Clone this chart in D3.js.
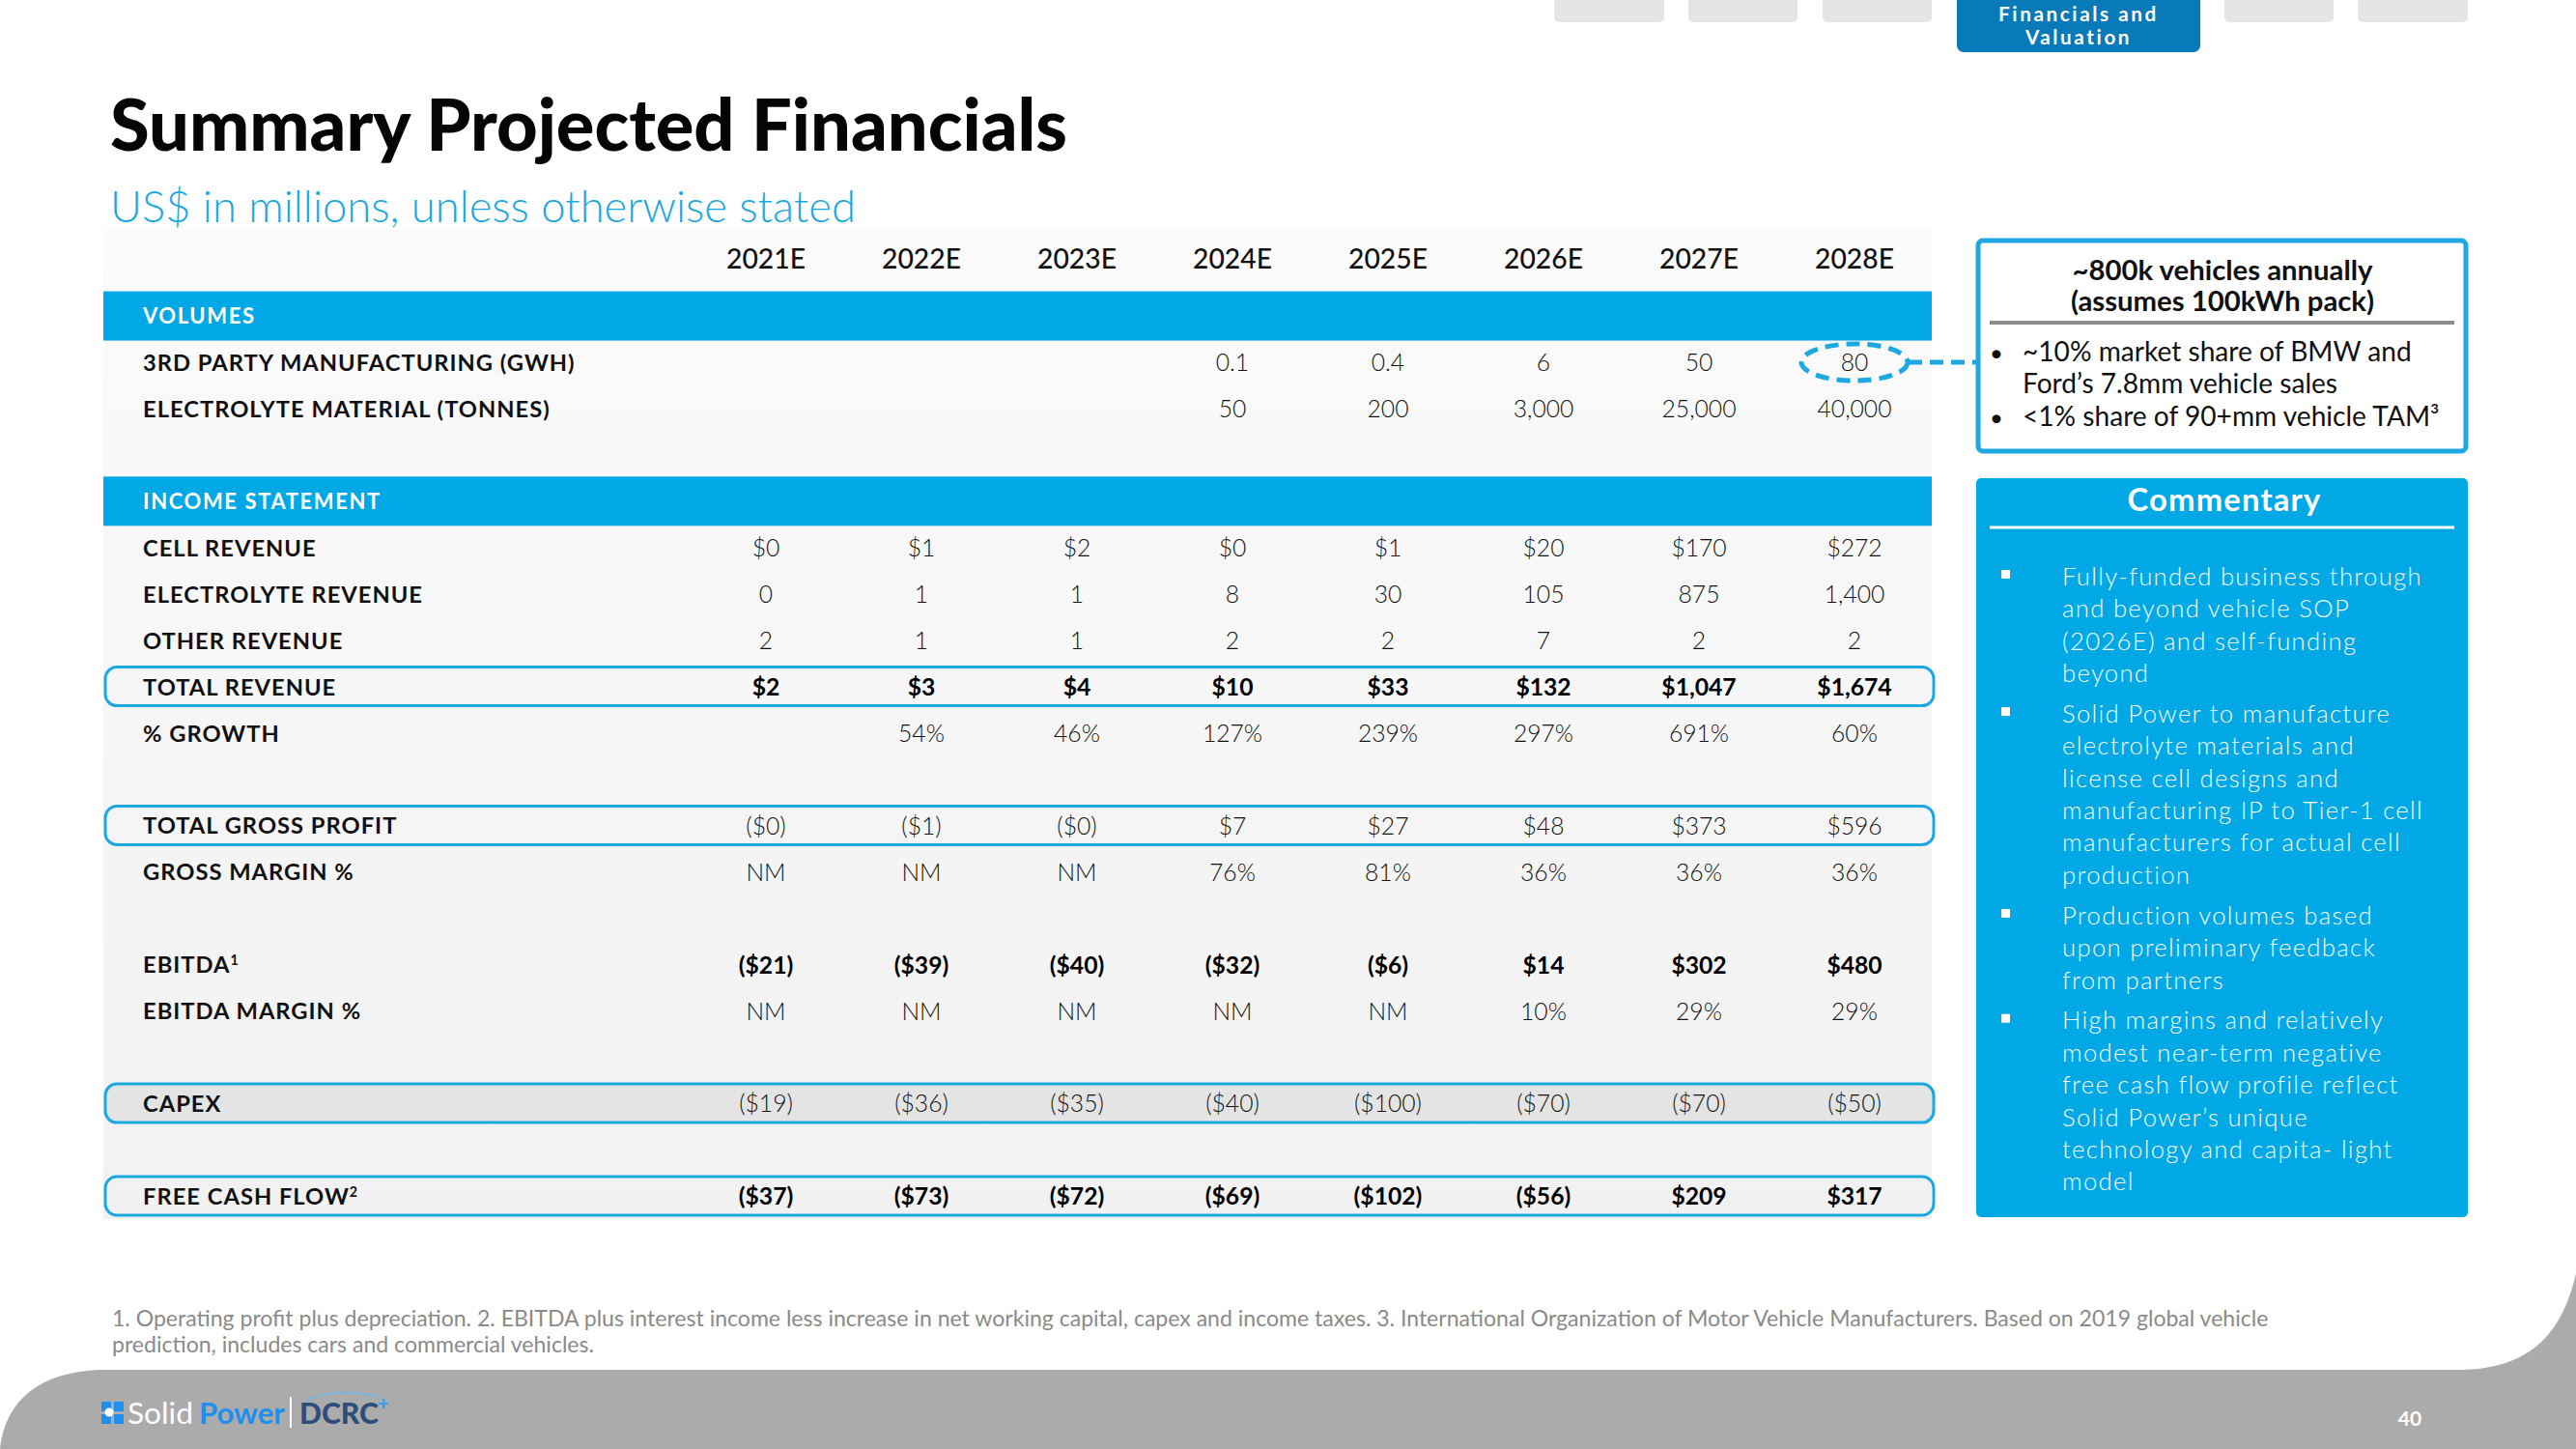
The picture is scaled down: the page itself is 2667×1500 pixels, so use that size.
<!DOCTYPE html>
<html><head><meta charset="utf-8">
<script src="https://cdn.jsdelivr.net/npm/d3@7"></script>
<style>body{margin:0;background:#fff;} svg{display:block}</style>
</head><body>
<svg id="c" width="2667" height="1500"></svg>
<script>
// ---------------- DATA ----------------
const years = ["2021E","2022E","2023E","2024E","2025E","2026E","2027E","2028E"];
const gwhVolume = [null,null,null,0.1,0.4,6,50,80];
const electrolyteTonnes = [null,null,null,50,200,3000,25000,40000];
const cellRevenue = [0,1,2,0,1,20,170,272];
const electrolyteRevenue = [0,1,1,8,30,105,875,1400];
const otherRevenue = [2,1,1,2,2,7,2,2];
const totalRevenue = [2,3,4,10,33,132,1047,1674];
const revenueGrowth = [null,54,46,127,239,297,691,60];
const grossProfit = [-0.3,-1,-0.2,7,27,48,373,596];
const grossMargin = [null,null,null,76,81,36,36,36];
const ebitda = [-21,-39,-40,-32,-6,14,302,480];
const ebitdaMargin = [null,null,null,null,null,10,29,29];
const capex = [-19,-36,-35,-40,-100,-70,-70,-50];
const freeCashFlow = [-37,-73,-72,-69,-102,-56,209,317];

const calloutTitle = ["~800k vehicles annually","(assumes 100kWh pack)"];
const calloutBullets = [["~10% market share of BMW and","Ford’s 7.8mm vehicle sales"],["<1% share of 90+mm vehicle TAM³"]];
const commentary = [
  ["Fully-funded business through","and beyond vehicle SOP","(2026E) and self-funding","beyond"],
  ["Solid Power to manufacture","electrolyte materials and","license cell designs and","manufacturing IP to Tier-1 cell","manufacturers for actual cell","production"],
  ["Production volumes based","upon preliminary feedback","from partners"],
  ["High margins and relatively","modest near-term negative","free cash flow profile reflect","Solid Power’s unique","technology and capita- light","model"]
];
const footnotes = ["1. Operating profit plus depreciation. 2. EBITDA plus interest income less increase in net working capital, capex and income taxes. 3. International Organization of Motor Vehicle Manufacturers. Based on 2019 global vehicle","prediction, includes cars and commercial vehicles."];

// ---------------- FORMATTERS ----------------
const fmtNum = v => v == null ? "" : d3.format(",")(v);
const fmtUsd = v => { if (v == null) return ""; const s = "$" + d3.format(",")(Math.round(Math.abs(v))); return v < 0 ? "(" + s + ")" : s; };
const fmtPct = v => v == null ? "" : v + "%";
const fmtNM = v => v == null ? "NM" : v + "%";

const tableRows = [
  {label:"3RD PARTY MANUFACTURING (GWH)", values:gwhVolume, fmt:fmtNum, slot:0},
  {label:"ELECTROLYTE MATERIAL (TONNES)", values:electrolyteTonnes, fmt:fmtNum, slot:1},
  {label:"CELL REVENUE", values:cellRevenue, fmt:fmtUsd, slot:4},
  {label:"ELECTROLYTE REVENUE", values:electrolyteRevenue, fmt:fmtNum, slot:5},
  {label:"OTHER REVENUE", values:otherRevenue, fmt:fmtNum, slot:6},
  {label:"TOTAL REVENUE", values:totalRevenue, fmt:fmtUsd, slot:7, bold:true, box:true},
  {label:"% GROWTH", values:revenueGrowth, fmt:fmtPct, slot:8},
  {label:"TOTAL GROSS PROFIT", values:grossProfit, fmt:fmtUsd, slot:10, box:true},
  {label:"GROSS MARGIN %", values:grossMargin, fmt:fmtNM, slot:11},
  {label:"EBITDA", sup:"1", values:ebitda, fmt:fmtUsd, slot:13, bold:true},
  {label:"EBITDA MARGIN %", values:ebitdaMargin, fmt:fmtNM, slot:14},
  {label:"CAPEX", values:capex, fmt:fmtUsd, slot:16, box:true, fill:true},
  {label:"FREE CASH FLOW", sup:"2", values:freeCashFlow, fmt:fmtUsd, slot:18, bold:true, box:true}
];
const bands = [{label:"VOLUMES", slot:-1},{label:"INCOME STATEMENT", slot:3}];

// ---------------- DRAW ----------------
const FONT = "Lato, 'Open Sans', sans-serif";
const BLUE = "#00a9e6", OUTLINE = "#1ea8e1";
const svg = d3.select("#c");
const meas = svg.append("text").attr("x",-9999).attr("y",-9999).attr("font-family",FONT);
function textW(str, size, weight, family){
  meas.attr("font-family",family||FONT).attr("font-size",size).attr("font-weight",weight).attr("letter-spacing",0).text(str);
  return meas.node().getComputedTextLength();
}
function fit(str, target, weight, ls, family){
  ls = ls || 0;
  const w = textW(str, 100, weight, family);
  return 100 * (target - [...str].length * ls) / w;
}
const BL = 0.38;

function draw(){
svg.append("rect").attr("width",2667).attr("height",1500).attr("fill","#fff");

// nav tabs
const grayTabs = [[1609,1723],[1748,1861],[1887,2000],[2303,2416],[2441,2555]];
svg.selectAll("rect.tab").data(grayTabs).join("rect").attr("class","tab")
  .attr("x",d=>d[0]).attr("y",-10).attr("width",d=>d[1]-d[0]).attr("height",33).attr("rx",5).attr("fill","#e5e5e5");
svg.append("rect").attr("x",2026).attr("y",-10).attr("width",252).attr("height",64).attr("rx",7).attr("fill","#0879b9");
const navSize = fit("Financials and",166,700,2.6);
["Financials and","Valuation"].forEach((t,i)=>{
  svg.append("text").attr("x",2152).attr("y",22+i*24).attr("text-anchor","middle")
   .attr("font-family",FONT).attr("font-weight",700).attr("font-size",navSize).attr("letter-spacing",2.6)
   .attr("fill","#fff").text(t);
});

// title
svg.append("text").attr("x",114).attr("y",156).attr("font-family",FONT).attr("font-weight",900)
  .attr("font-size",fit("Summary Projected Financials",991,900)).attr("fill","#050505").text("Summary Projected Financials");
svg.append("text").attr("x",114).attr("y",230).attr("font-family",FONT).attr("font-weight",300)
  .attr("font-size",fit("US$ in millions, unless otherwise stated",772,300)).attr("fill","#1ba8e0").text("US$ in millions, unless otherwise stated");

// table scales
const x = d3.scalePoint().domain(years).range([793,1920]);
const y = d3.scaleLinear().domain([0,18]).range([375,1238]);
const TL = 107, TW = 1893;

const defs = svg.append("defs");
const g1 = defs.append("linearGradient").attr("id","bg").attr("x1",0).attr("y1",0).attr("x2",0).attr("y2",1);
g1.append("stop").attr("offset",0).attr("stop-color","#fbfbfb");
g1.append("stop").attr("offset",1).attr("stop-color","#f1f1f1");
svg.append("rect").attr("x",TL).attr("y",238).attr("width",TW).attr("height",1024).attr("fill","url(#bg)");

// year header
const yearSize = fit("2021E",82,500);
svg.selectAll("text.year").data(years).join("text").attr("class","year")
  .attr("x",d=>x(d)).attr("y",y(-2.25)+yearSize*BL).attr("text-anchor","middle")
  .attr("font-family",FONT).attr("font-weight",500).attr("font-size",yearSize).attr("fill","#111").text(d=>d);

// bands
const bandSize = fit("INCOME STATEMENT",247,700,1.6);
const bg = svg.selectAll("g.band").data(bands).join("g").attr("class","band");
bg.append("rect").attr("x",TL).attr("y",d=>y(d.slot)-25.5).attr("width",TW).attr("height",51).attr("fill",BLUE);
bg.append("text").attr("x",148).attr("y",d=>y(d.slot)+bandSize*BL).attr("font-family",FONT).attr("font-weight",700)
  .attr("font-size",bandSize).attr("letter-spacing",1.6).attr("fill","#fff").text(d=>d.label);

// highlight boxes
svg.selectAll("rect.hl").data(tableRows.filter(r=>r.box)).join("rect").attr("class","hl")
  .attr("x",109).attr("y",d=>y(d.slot)-20).attr("width",1893).attr("height",40).attr("rx",12)
  .attr("fill",d=>d.fill?"#e4e4e4":"none").attr("stroke",OUTLINE).attr("stroke-width",3);

// labels
const labelLS = 1.0;
const labelSize = fit("ELECTROLYTE MATERIAL (TONNES)",422,700,labelLS);
const lab = svg.selectAll("text.lab").data(tableRows).join("text").attr("class","lab")
  .attr("x",148).attr("y",d=>y(d.slot)+labelSize*BL).attr("font-family",FONT).attr("font-weight",700)
  .attr("font-size",labelSize).attr("letter-spacing",labelLS).attr("fill","#111");
lab.append("tspan").text(d=>d.label);
lab.filter(d=>d.sup).append("tspan").attr("font-size",labelSize*0.6).attr("dy",-labelSize*0.35).text(d=>d.sup);

// values
const valSize = fit("40,000",77,300);
const vg = svg.selectAll("g.vals").data(tableRows).join("g").attr("class","vals");
vg.selectAll("text").data(r=>r.values.map((v,i)=>({v,i,r}))).join("text")
  .attr("x",d=>x(years[d.i])).attr("y",d=>y(d.r.slot)+valSize*BL).attr("text-anchor","middle")
  .attr("font-family",FONT).attr("font-weight",d=>d.r.bold?700:300).attr("font-size",valSize)
  .attr("fill",d=>d.r.bold?"#000":"#111").text(d=>d.r.fmt(d.v));

// dashed ellipse + connector
const ex = x("2028E"), ey = y(0);
svg.append("ellipse").attr("cx",ex).attr("cy",ey).attr("rx",55).attr("ry",19)
  .attr("fill","none").attr("stroke",OUTLINE).attr("stroke-width",5).attr("stroke-dasharray","14 8");
svg.append("line").attr("x1",ex+56).attr("x2",2046).attr("y1",ey).attr("y2",ey)
  .attr("stroke",OUTLINE).attr("stroke-width",5).attr("stroke-dasharray","14 8");

// callout box
svg.append("rect").attr("x",2048).attr("y",249).attr("width",505).attr("height",218).attr("rx",5)
  .attr("fill","#fff").attr("stroke",OUTLINE).attr("stroke-width",5);
const ctSize = fit(calloutTitle[0],311,700);
calloutTitle.forEach((t,i)=>svg.append("text").attr("x",2301).attr("y",279+i*32+ctSize*BL).attr("text-anchor","middle")
  .attr("font-family",FONT).attr("font-weight",700).attr("font-size",ctSize).attr("fill","#111").text(t));
svg.append("line").attr("x1",2060).attr("x2",2541).attr("y1",334).attr("y2",334).attr("stroke","#8c8c8c").attr("stroke-width",4);
const cbSize = fit(calloutBullets[0][0],403,400);
let cy0 = 363;
calloutBullets.forEach(b=>{
  svg.append("text").attr("x",2060).attr("y",cy0+cbSize*BL).attr("font-family",FONT).attr("font-size",cbSize*0.85).attr("fill","#111").text("•");
  b.forEach(l=>{
    svg.append("text").attr("x",2094).attr("y",cy0+cbSize*BL).attr("font-family",FONT).attr("font-size",cbSize).attr("fill","#111").text(l);
    cy0 += 33.5;
  });
});

// commentary box
svg.append("rect").attr("x",2046).attr("y",495).attr("width",509).attr("height",765).attr("rx",5).attr("fill",BLUE);
const comTitleSize = fit("Commentary",201,700,1.2);
svg.append("text").attr("x",2303).attr("y",517+comTitleSize*BL).attr("text-anchor","middle").attr("font-family",FONT)
  .attr("font-weight",700).attr("font-size",comTitleSize).attr("letter-spacing",1.2).attr("fill","#fff").text("Commentary");
svg.append("line").attr("x1",2060).attr("x2",2541).attr("y1",546).attr("y2",546).attr("stroke","#fff").attr("stroke-width",3);
const comLS = 1.3;
const comSize = fit(commentary[0][0],373,300,comLS);
let ly = 596;
commentary.forEach(par=>{
  svg.append("rect").attr("x",2072).attr("y",ly-6).attr("width",9).attr("height",9).attr("fill","#fff");
  par.forEach(l=>{
    svg.append("text").attr("x",2135).attr("y",ly+comSize*BL).attr("font-family",FONT).attr("font-weight",300)
      .attr("font-size",comSize).attr("letter-spacing",comLS).attr("fill","#f4fbff").text(l);
    ly += 33.4;
  });
  ly += 8.5;
});

// footnotes
const fnSize = fit(footnotes[0],2233,400);
footnotes.forEach((f,i)=>svg.append("text").attr("x",116).attr("y",1364+i*27+fnSize*BL).attr("font-family",FONT)
  .attr("font-size",fnSize).attr("fill","#8a8a8a").text(f));

// footer shape
svg.append("path").attr("d","M0,1500 C6,1450 40,1418 112,1418 L2545,1418 C2615,1418 2652,1385 2667,1318 L2667,1500 Z").attr("fill","#ababab");

// logo
const lg = svg.append("g");
[[105,1451],[118,1451],[105,1464],[118,1464]].forEach(p=>lg.append("rect").attr("x",p[0]).attr("y",p[1]).attr("width",10).attr("height",10).attr("fill","#1e8fef"));
lg.append("circle").attr("cx",113).attr("cy",1462).attr("r",4.5).attr("fill","#fff");
lg.append("text").attr("x",132).attr("y",1474).attr("font-family",FONT).attr("font-weight",400).attr("font-size",fit("Solid",68,400)).attr("fill","#fff").text("Solid");
lg.append("text").attr("x",206).attr("y",1474).attr("font-family",FONT).attr("font-weight",700).attr("font-size",fit("Power",89,700)).attr("fill","#1e8fef").text("Power");
lg.append("line").attr("x1",301).attr("x2",301).attr("y1",1446).attr("y2",1478).attr("stroke","#fff").attr("stroke-width",2);
lg.append("text").attr("x",310).attr("y",1474).attr("font-family",FONT).attr("font-weight",900).attr("font-size",fit("DCRC",82,900)).attr("fill","#2d4e7c").text("DCRC");
lg.append("text").attr("x",391).attr("y",1460).attr("font-family",FONT).attr("font-weight",900).attr("font-size",20).attr("fill","#3aa0f0").text("+");
lg.append("path").attr("d","M318,1449 Q350,1436 392,1446").attr("fill","none").attr("stroke","#6fb6e8").attr("stroke-width",1.5);

svg.append("text").attr("x",2495).attr("y",1476).attr("text-anchor","middle").attr("font-family",FONT).attr("font-weight",700).attr("font-size",21).attr("fill","#fff").text("40");
meas.remove();
}
(document.fonts && document.fonts.ready ? document.fonts.ready : Promise.resolve()).then(draw);
</script>
</body></html>
